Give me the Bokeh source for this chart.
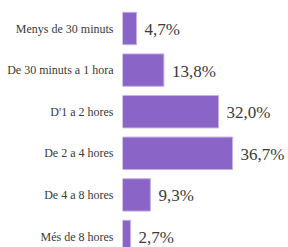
from bokeh.plotting import figure
from bokeh.models import Range1d, FixedTicker, ColumnDataSource, LabelSet
from bokeh.core.properties import value
from bokeh.embed import file_html
from bokeh.resources import INLINE

categories = ["Menys de 30 minuts", "De 30 minuts a 1 hora", "D'1 a 2 hores",
              "De 2 a 4 hores", "De 4 a 8 hores", "Més de 8 hores"]
values = [4.7, 13.8, 32.0, 36.7, 9.3, 2.7]
labels = ["4,7%", "13,8%", "32,0%", "36,7%", "9,3%", "2,7%"]

pos = list(range(len(categories)))
src = ColumnDataSource(dict(y=pos, v=values, lab=labels))

W, H = 288, 247
left = 122
pitch = 41.6
top = -28.0 / pitch
p = figure(width=W, height=H, output_backend="svg", toolbar_location=None,
           x_range=Range1d(0, (W - left) / 3.0),
           y_range=Range1d(top + H / pitch, top),
           min_border_left=left, min_border_right=0, min_border_top=0, min_border_bottom=0)
p.xaxis.visible = False
p.xgrid.visible = False
p.ygrid.visible = False
p.outline_line_color = None
p.background_fill_color = "white"
p.border_fill_color = "white"

p.hbar(y="y", right="v", left=0, height=0.78, source=src,
       fill_color="#8a64c6", line_color="#c6b2e6", line_width=1)
labs = LabelSet(x="v", y="y", text="lab", source=src, x_offset=8, y_offset=-1,
                text_baseline="middle", text_align="left",
                text_font="Liberation Serif", text_font_size="17px", text_color="#3a3a3a")
p.add_layout(labs)

ax = p.yaxis[0]
ax.ticker = FixedTicker(ticks=pos)
ax.major_label_overrides = {i: c for i, c in enumerate(categories)}
ax.axis_line_color = None
ax.major_tick_line_color = None
ax.minor_tick_line_color = None
ax.major_tick_out = 0
ax.major_tick_in = 0
ax.major_label_standoff = 9
ax.major_label_text_font = "Liberation Serif"
ax.major_label_text_font_size = "12px"
ax.major_label_text_color = "#3a3a3a"

open("out.html", "w").write(file_html(p, INLINE))
